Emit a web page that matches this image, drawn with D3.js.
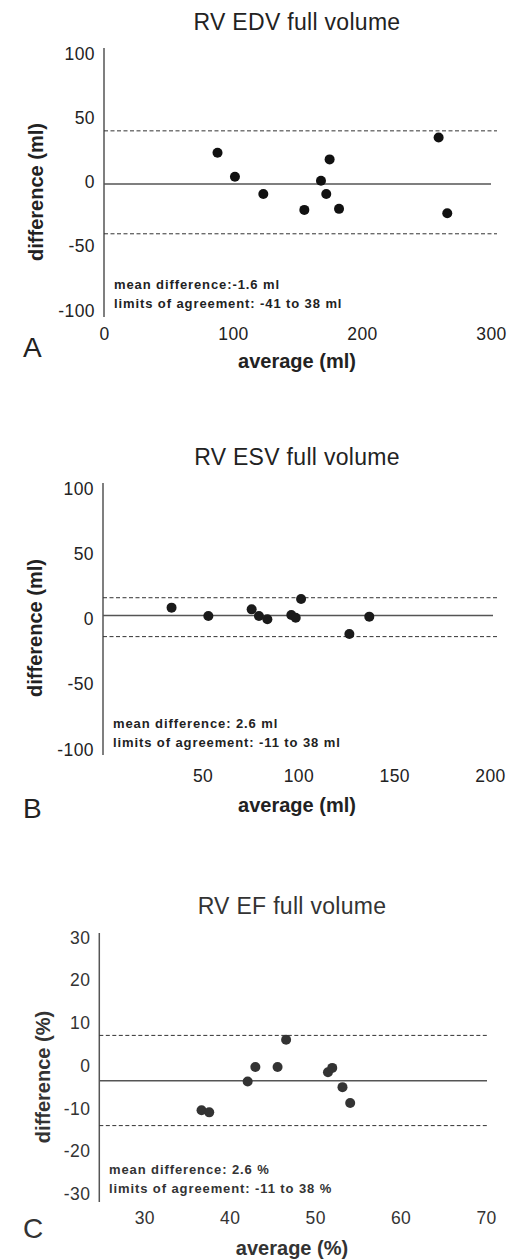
<!DOCTYPE html>
<html>
<head>
<meta charset="utf-8">
<script src="https://cdn.jsdelivr.net/npm/d3@7/dist/d3.min.js"></script>
<style>
  body { margin: 0; background: #fff; }
  text { font-family: "Liberation Sans", Arial, sans-serif; }
</style>
</head>
<body>
<script>
// ---- data ----
var titles = ["RV EDV full volume", "RV ESV full volume", "RV EF full volume"];
var panelLetters = ["A", "B", "C"];
var xLabels = ["average (ml)", "average (ml)", "average (%)"];
var yLabels = ["difference (ml)", "difference (ml)", "difference (%)"];

// A: end-diastolic volume
var edvAvg  = [88, 101.5, 123.5, 155.3, 168.2, 172.3, 174.9, 182.2, 259.4, 266.1];
var edvDiff = [22.7, 4.1, -9.3, -21.7, 1.0, -9.3, 17.6, -20.9, 34.6, -24.3];
// B: end-systolic volume
var esvAvg  = [33.8, 53, 75.6, 79.4, 83.8, 96.3, 98.6, 101.4, 126.6, 137];
var esvDiff = [8.7, 2.3, 7.4, 2.3, -0.2, 3.1, 1.0, 15.3, -11.5, 1.8];
// C: ejection fraction
var efAvg  = [36.7, 37.6, 42.1, 43.0, 45.6, 46.6, 51.5, 52.0, 53.2, 54.1];
var efDiff = [-10.4, -10.9, -3.7, -0.3, -0.3, 6.1, -1.5, -0.5, -5.0, -8.7];

var meanLine  = [-1.6, 2.6, -3.5];
var upperLoA  = [39.8, 16.3, 7.1];
var lowerLoA  = [-40.3, -13.5, -14.0];

var meanText  = ["mean difference:-1.6 ml", "mean difference: 2.6 ml", "mean difference: 2.6 %"];
var limitText = ["limits of agreement: -41 to 38 ml", "limits of agreement: -11 to 38 ml", "limits of agreement: -11 to 38 %"];

var yTicksVol = [-100, -50, 0, 50, 100];
var yTicksEF  = [-30, -20, -10, 0, 10, 20, 30];
var xTicksEDV = [0, 100, 200, 300];
var xTicksESV = [50, 100, 150, 200];
var xTicksEF  = [30, 40, 50, 60, 70];

// ---- layout of each panel (pixels) ----
var panels = [
  { avg: edvAvg, diff: edvDiff, xd: [0, 300], xr: [104, 491], yd: [-100, 100], yr: [310.5, 53.5],
    axisX: 104, axisTop: 48, axisBot: 317, solidEnd: 491, dashEnd: 497,
    xTicks: xTicksEDV, yTicks: yTicksVol, titleY: 30, titleX: 297, xTickY: 340, letterY: 357,
    xLabY: 368, yLabX: 43, yLabY: 192, noteX: 114, noteY: 289, ink: "#111", txt: "#222" },
  { avg: esvAvg, diff: esvDiff, xd: [0, 200], xr: [106.8, 490], yd: [-100, 100], yr: [749.5, 488.5],
    axisX: 103, axisTop: 483, axisBot: 755, solidEnd: 493, dashEnd: 498,
    xTicks: xTicksESV, yTicks: yTicksVol, titleY: 465, titleX: 297, xTickY: 782, letterY: 818,
    xLabY: 812, yLabX: 42, yLabY: 628, noteX: 113, noteY: 728, ink: "#1a1a1a", txt: "#222" },
  { avg: efAvg, diff: efDiff, xd: [30, 70], xr: [144.3, 486], yd: [-30, 30], yr: [1194, 937.5],
    axisX: 99.3, axisTop: 933, axisBot: 1202, solidEnd: 487, dashEnd: 487,
    xTicks: xTicksEF, yTicks: yTicksEF, titleY: 914, titleX: 292, xTickY: 1224, letterY: 1238,
    xLabY: 1255, yLabX: 50, yLabY: 1077, noteX: 109, noteY: 1174, ink: "#333", txt: "#333" }
];

// plain hyphen for negatives, as in the original
var plain = function(d) { return String(d); };

var svg = d3.select("body").append("svg")
    .attr("width", 512)
    .attr("height", 1259);

svg.append("rect").attr("width", 512).attr("height", 1259).attr("fill", "#fff");

panels.forEach(function(p, i) {
  var x = d3.scaleLinear().domain(p.xd).range(p.xr);
  var y = d3.scaleLinear().domain(p.yd).range(p.yr);
  var g = svg.append("g");

  // title
  g.append("text")
    .attr("x", p.titleX).attr("y", p.titleY)
    .attr("text-anchor", "middle")
    .attr("font-size", 23).attr("letter-spacing", 0.3)
    .attr("fill", p.txt)
    .text(titles[i]);

  // y axis labels
  var yAxis = d3.axisLeft(y).tickValues(p.yTicks).tickFormat(plain).tickSize(0).tickPadding(9);
  var ya = g.append("g")
    .attr("transform", "translate(" + p.axisX + ",0)")
    .call(yAxis);
  ya.select(".domain").remove();
  ya.selectAll("text")
    .attr("font-size", 17.5).attr("letter-spacing", 0.4)
    .attr("fill", p.txt)
    .style("font-family", "'Liberation Sans', Arial, sans-serif");

  g.append("line")
    .attr("x1", p.axisX).attr("x2", p.axisX)
    .attr("y1", p.axisTop).attr("y2", p.axisBot)
    .attr("stroke", "#555").attr("stroke-width", 1.5);

  // x axis labels (no axis line in the original)
  var xAxis = d3.axisBottom(x).tickValues(p.xTicks).tickFormat(plain).tickSize(0);
  var xa = g.append("g")
    .attr("transform", "translate(0," + p.xTickY + ")")
    .call(xAxis);
  xa.select(".domain").remove();
  xa.selectAll("text")
    .attr("y", 0).attr("dy", 0)
    .attr("font-size", 17.5).attr("letter-spacing", 0.4)
    .attr("fill", p.txt)
    .style("font-family", "'Liberation Sans', Arial, sans-serif");

  // mean line and limits of agreement
  g.append("line")
    .attr("x1", p.axisX).attr("x2", p.solidEnd)
    .attr("y1", y(meanLine[i])).attr("y2", y(meanLine[i]))
    .attr("stroke", "#555").attr("stroke-width", 1.5);

  [upperLoA[i], lowerLoA[i]].forEach(function(v) {
    g.append("line")
      .attr("x1", p.axisX).attr("x2", p.dashEnd)
      .attr("y1", y(v)).attr("y2", y(v))
      .attr("stroke", "#333").attr("stroke-width", 1)
      .attr("stroke-dasharray", "4,2.5");
  });

  // points
  g.selectAll("circle")
    .data(d3.range(p.avg.length))
    .enter()
    .append("circle")
    .attr("cx", function(d) { return x(p.avg[d]); })
    .attr("cy", function(d) { return y(p.diff[d]); })
    .attr("r", 5)
    .attr("fill", p.ink);

  // notes
  g.append("text")
    .attr("x", p.noteX).attr("y", p.noteY)
    .attr("font-size", 13).attr("font-weight", "bold").attr("letter-spacing", 0.9)
    .attr("fill", p.txt)
    .text(meanText[i]);
  g.append("text")
    .attr("x", p.noteX).attr("y", p.noteY + 18.7)
    .attr("font-size", 13).attr("font-weight", "bold").attr("letter-spacing", 0.9)
    .attr("fill", p.txt)
    .text(limitText[i]);

  // axis titles
  g.append("text")
    .attr("x", p.titleX)
    .attr("y", p.xLabY)
    .attr("text-anchor", "middle")
    .attr("font-size", 20).attr("font-weight", "bold")
    .attr("fill", p.txt)
    .text(xLabels[i]);

  g.append("text")
    .attr("transform", "translate(" + p.yLabX + "," + p.yLabY + ") rotate(-90)")
    .attr("text-anchor", "middle")
    .attr("font-size", 20).attr("font-weight", "bold")
    .attr("fill", p.txt)
    .text(yLabels[i]);

  // panel letter
  g.append("text")
    .attr("x", 23).attr("y", p.letterY)
    .attr("font-size", 28)
    .attr("fill", p.txt)
    .text(panelLetters[i]);
});
</script>
</body>
</html>
